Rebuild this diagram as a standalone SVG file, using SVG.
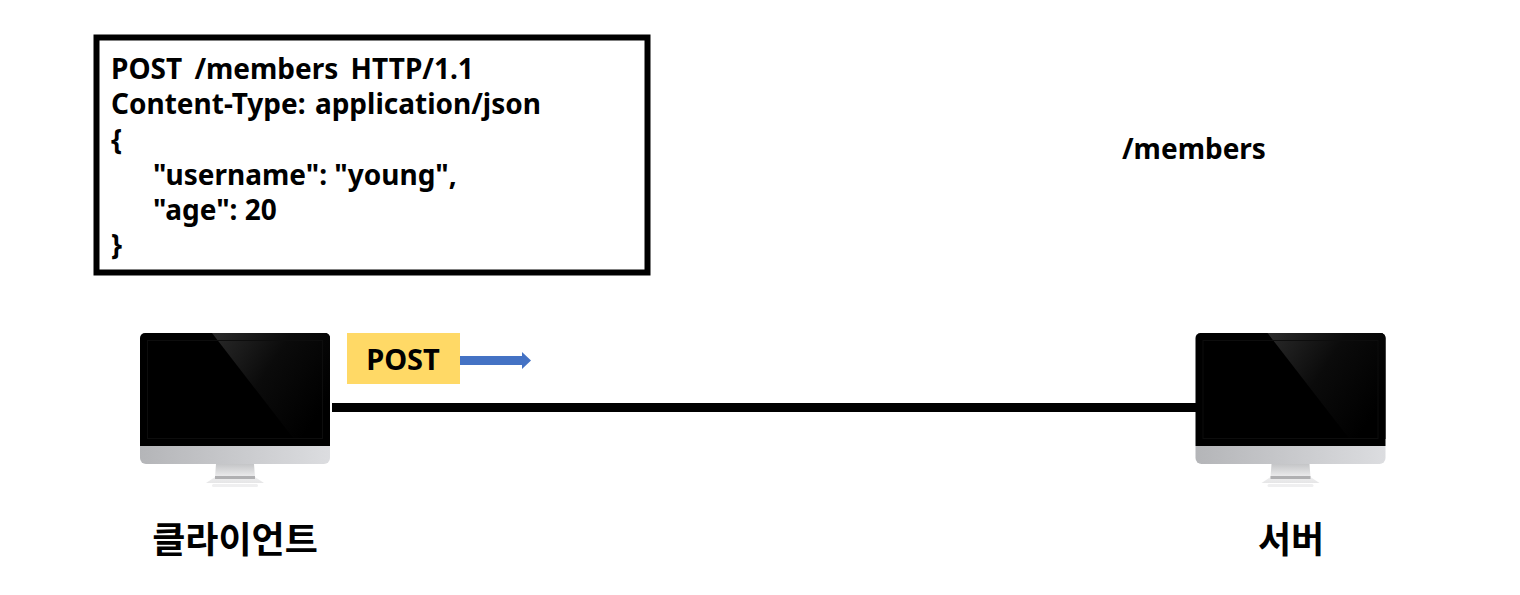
<svg xmlns="http://www.w3.org/2000/svg" width="1520" height="595" viewBox="0 0 1520 595">
  <style>
    text { font-family: "Noto Sans", "Noto Sans CJK KR", sans-serif; font-weight: 700; fill: #000; }
    .req { font-size: 28px; }
    .lbl { font-size: 36px; text-anchor: middle; font-family: "Noto Sans CJK KR", sans-serif; }
  </style>
  <defs>
    <linearGradient id="bezel" x1="0" x2="1" y1="0" y2="0">
      <stop offset="0" stop-color="#b4b5b8"/>
      <stop offset="1" stop-color="#dcdde0"/>
    </linearGradient>
    <linearGradient id="neck" x1="0" x2="0" y1="0" y2="1">
      <stop offset="0" stop-color="#c4c5c7"/>
      <stop offset="0.7" stop-color="#eeeeef"/>
      <stop offset="1" stop-color="#e6e6e7"/>
    </linearGradient>
    <linearGradient id="glare" x1="0" y1="0" x2="1" y2="0.6">
      <stop offset="0" stop-color="#2a2a2a"/>
      <stop offset="0.5" stop-color="#0b0b0b"/>
      <stop offset="1" stop-color="#000"/>
    </linearGradient>
    <g id="monitor">
      <path d="M0 113H190V125a6 6 0 0 1-6 6H6a6 6 0 0 1-6-6Z" fill="url(#bezel)"/>
      <path d="M5 0H185a5 5 0 0 1 5 5V113H0V5a5 5 0 0 1 5-5Z" fill="#000"/>
      <path d="M72 0H185a5 5 0 0 1 5 5V106H154Z" fill="url(#glare)"/>
      <rect x="7.500" y="7.500" width="175" height="98" fill="none" stroke="#0d0d0d" stroke-width="1"/>
      <path d="M76 131H114L115 144L124 150H66L75 144Z" fill="url(#neck)"/>
      <rect x="75" y="143" width="40" height="3" fill="#b0b0b2"/>
      <rect x="72" y="151" width="46" height="3" rx="1.500" fill="#efeff0"/>
    </g>
  </defs>

  <g id="connectors">
    <line x1="332" y1="407.500" x2="1197" y2="407.500" stroke="#000" stroke-width="9"/>
    <path d="M459 356H522V352L531 360.500L522 369V365H459Z" fill="#4472c4"/>
  </g>

  <g id="request">
    <rect x="96.500" y="37.500" width="551" height="235" fill="#fff" stroke="#000" stroke-width="6"/>
    <text class="req" x="111" y="79" word-spacing="5">POST /members HTTP/1.1</text>
    <text class="req" x="111" y="114" word-spacing="2">Content-Type: application/json</text>
    <text class="req" x="111" y="150">{</text>
    <text class="req" x="153" y="184.500">"username": "young",</text>
    <text class="req" x="153" y="219.500">"age": 20</text>
    <text class="req" x="111" y="255">}</text>
  </g>

  <g id="path-label"><text class="req" x="1122" y="159">/members</text></g>

  <g id="client">
    <use href="#monitor" x="140" y="333"/>
    <text class="lbl" x="235" y="553">클라이언트</text>
  </g>

  <g id="server">
    <use href="#monitor" x="1195.500" y="333"/>
    <text class="lbl" x="1291" y="553">서버</text>
  </g>

  <g id="post-tag">
    <rect x="347" y="333" width="113" height="51" fill="#ffd966"/>
    <text x="403" y="370" font-size="29" text-anchor="middle">POST</text>
  </g>
</svg>
